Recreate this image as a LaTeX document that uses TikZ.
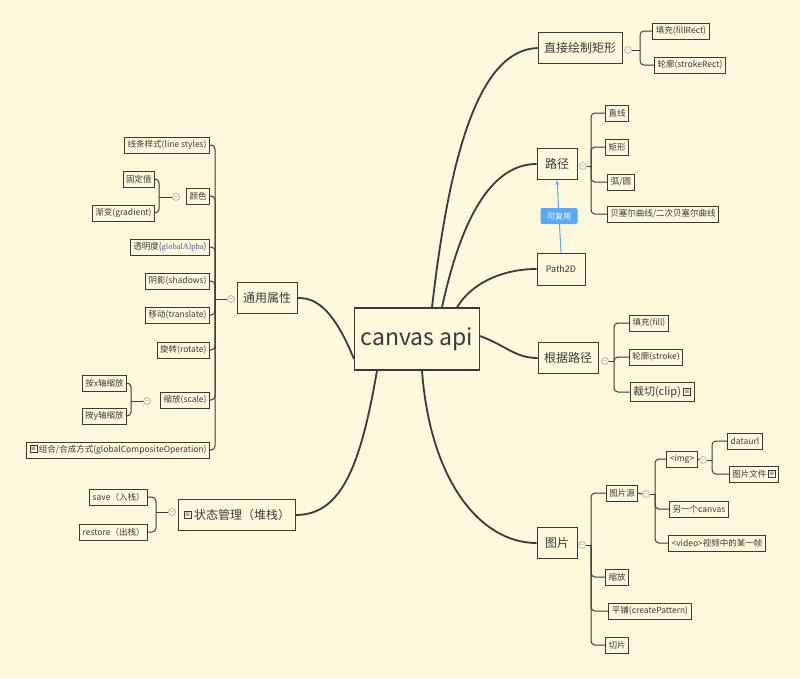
\documentclass[tikz,border=0pt]{standalone}
\usepackage{fontspec}
\usetikzlibrary{arrows.meta}
\setmainfont{Noto Sans CJK SC}
\newfontfamily\serifb{Liberation Serif}
\newfontfamily\djv{DejaVu Sans}
\definecolor{bg}{HTML}{FEF8DC}
\definecolor{ln}{HTML}{3A3A3A}
\definecolor{bl}{HTML}{5AA8F5}
\begin{document}
\begin{tikzpicture}[x=1pt,y=-1pt,
 sm/.style={draw=ln,line width=0.9pt,fill=bg,font=\fontsize{8.5}{10}\selectfont,text=ln,inner xsep=3pt,inner ysep=0pt,minimum height=16pt},
 big/.style={draw=ln,line width=0.9pt,fill=bg,font=\fontsize{12}{14}\selectfont,text=ln,inner xsep=6pt,inner ysep=0pt,minimum height=31pt},
 br/.style={draw=ln,line width=1pt,rounded corners=4pt},
 cu/.style={draw=ln,line width=1.8pt},
 col/.style={circle,draw=gray!70,line width=0.6pt,fill=bg,inner sep=0pt,minimum size=7pt,label={[gray,inner sep=0pt,font=\fontsize{6}{6}\selectfont]center:$-$}},
 nt/.style={draw=ln,line width=0.5pt,inner sep=0pt,minimum size=7pt,font=\djv\fontsize{6}{6}\selectfont,text=ln}]
\fill[bg] (0,0) rectangle (800,678);
\useasboundingbox (0,0) rectangle (800,678);
% center
\node[draw=ln,line width=1.1pt,fill=bg,minimum width=125pt,minimum height=62pt,font=\fontsize{23}{26}\selectfont,text=ln] (ca) at (417,339) {canvas api};
% main nodes
\node[big] (m1) at (580,48) {直接绘制矩形};
\node[big,minimum width=40pt] (m2) at (557,164) {路径};
\node[big,minimum width=48pt,font=\fontsize{9}{11}\selectfont,minimum height=32pt] (m3) at (561,269) {Path2D};
\node[big] (m4) at (568,358) {根据路径};
\node[big,minimum width=40pt] (m5) at (557,543) {图片};
\node[big] (m6) at (267,298) {通用属性};
\node[big,inner xsep=5pt] (m7) at (237,515) {\raisebox{1pt}{\tikz\node[nt]{≡};}\ 状态管理（堆栈）};
% curves
\draw[cu] ([xshift=15]ca.north) .. controls (450,150) and (480,50) .. (m1.west);
\draw[cu] ([xshift=25]ca.north) .. controls (465,200) and (500,164) .. (m2.west);
\draw[cu] ([xshift=40]ca.north) .. controls (470,285) and (500,269) .. (m3.west);
\draw[cu] ([yshift=3]ca.east) .. controls (505,345) and (515,358) .. (m4.west);
\draw[cu] ([xshift=5]ca.south) .. controls (430,480) and (480,543) .. (m5.west);
\draw[cu] ([yshift=-20]ca.west) .. controls (330,300) and (310,298) .. (m6.east);
\draw[cu] ([xshift=-40]ca.south) .. controls (360,470) and (340,515) .. (m7.east);
% reuse arrow
\draw[bl,line width=1pt,-{Stealth[length=5pt]}] (m3.north) -- (m2.south);
\node[fill=bl,rounded corners=2pt,text=white,font=\fontsize{8}{10}\selectfont,minimum width=37pt,minimum height=16pt,inner sep=1pt] (ru) at (559,216) {可复用};
% m1 children
\node[sm] (a1) at (681,31) {填充(fillRect)};
\node[sm] (a2) at (690,65) {轮廓(strokeRect)};
\node[col] (c1) at (628,50) {};
\coordinate (b1) at (640,50);
\draw[br] (c1.east) -- (b1); \draw[br] (b1) |- (a1.west); \draw[br] (b1) |- (a2.west);
% m2 children
\node[sm] (p1) at (617,113) {直线};
\node[sm] (p2) at (617,147) {矩形};
\node[sm] (p3) at (621,182) {弧/圆};
\node[sm] (p4) at (663,214) {贝塞尔曲线/二次贝塞尔曲线};
\node[col] (c2) at (583,166) {};
\coordinate (b2) at (591,166);
\draw[br] (c2.east) -- (b2);
\foreach \n in {p1,p2,p3,p4} \draw[br] (b2) |- (\n.west);
% m4 children
\node[sm] (r1) at (649,323) {填充(fill)};
\node[sm] (r2) at (656,357) {轮廓(stroke)};
\node[sm,font=\fontsize{11}{13}\selectfont,minimum height=19pt] (r3) at (662,392) {裁切(clip) \tikz\node[nt]{≡};};
\node[col] (c4) at (605,361) {};
\coordinate (b4) at (614,361);
\draw[br] (c4.east) -- (b4);
\foreach \n in {r1,r2,r3} \draw[br] (b4) |- (\n.west);
% m5 children
\node[sm] (i1) at (622,493) {图片源};
\node[sm] (i2) at (617,577) {缩放};
\node[sm] (i3) at (650,611) {平铺(createPattern)};
\node[sm] (i4) at (617,645) {切片};
\node[col] (c5) at (582,545) {};
\coordinate (b5) at (591,545);
\draw[br] (c5.east) -- (b5);
\foreach \n in {i1,i2,i3,i4} \draw[br] (b5) |- (\n.west);
\node[sm] (j1) at (682,459) {<img>};
\node[sm] (j2) at (699,509) {另一个canvas};
\node[sm] (j3) at (717,543) {<video>视频中的某一帧};
\node[col] (c6) at (646,494) {};
\coordinate (b6) at (655,494);
\draw[br] (i1.east) -- (c6.west); \draw[br] (c6.east) -- (b6);
\foreach \n in {j1,j2,j3} \draw[br] (b6) |- (\n.west);
\node[sm] (k1) at (745,441) {dataurl};
\node[sm] (k2) at (754,474) {图片文件 \tikz\node[nt]{≡};};
\node[col] (c7) at (703,460) {};
\coordinate (b7) at (712,460);
\draw[br] (j1.east) -- (c7.west); \draw[br] (c7.east) -- (b7);
\foreach \n in {k1,k2} \draw[br] (b7) |- (\n.west);
% m6 children (left)
\node[sm,anchor=east] (g1) at (210,145) {线条样式(line styles)};
\node[sm,anchor=east] (g2) at (210,196) {颜色};
\node[sm,anchor=east] (g3) at (210,247) {透明度({\serifb\color{gray!70!blue}globalAlpha})};
\node[sm,anchor=east] (g4) at (210,281) {阴影(shadows)};
\node[sm,anchor=east] (g5) at (210,315) {移动(translate)};
\node[sm,anchor=east] (g6) at (210,350) {旋转(rotate)};
\node[sm,anchor=east] (g7) at (210,400) {缩放(scale)};
\node[sm,anchor=east] (g8) at (210,450) {\tikz\node[nt]{≡};\ 组合/合成方式(globalCompositeOperation)};
\node[col] (c8) at (231,299) {};
\coordinate (b8) at (215,299);
\draw[br] (c8.west) -- (b8);
\foreach \n in {g1,g2,g3,g4,g5,g6,g7,g8} \draw[br] (b8) |- (\n.east);
\node[sm,anchor=east] (h1) at (155,179) {固定值};
\node[sm,anchor=east] (h2) at (155,213) {渐变(gradient)};
\node[col] (c9) at (176,197) {};
\coordinate (b9) at (159,197);
\draw[br] (c9.west) -- (b9);
\foreach \n in {h1,h2} \draw[br] (b9) |- (\n.east);
\node[sm,anchor=east] (s1) at (127,383) {按x轴缩放};
\node[sm,anchor=east] (s2) at (127,416) {按y轴缩放};
\node[col] (c10) at (147,401) {};
\coordinate (b10) at (131,401);
\draw[br] (c10.west) -- (b10);
\foreach \n in {s1,s2} \draw[br] (b10) |- (\n.east);
% m7 children
\node[sm,anchor=east] (t1) at (148,497) {save（入栈）};
\node[sm,anchor=east] (t2) at (148,532) {restore（出栈）};
\node[col] (c11) at (172,512) {};
\coordinate (b11) at (156,512);
\draw[br] (c11.west) -- (b11);
\foreach \n in {t1,t2} \draw[br] (b11) |- (\n.east);
\end{tikzpicture}
\end{document}
